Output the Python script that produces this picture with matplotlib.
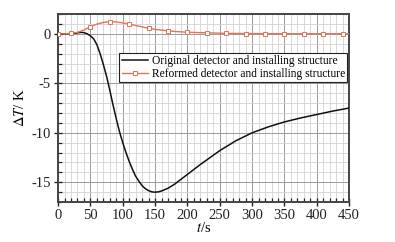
#!/usr/bin/env python3
"""Temperature difference versus time for two detector structures."""

import matplotlib

matplotlib.use("Agg")
import matplotlib.pyplot as plt
from matplotlib.ticker import MultipleLocator

# original detector and installing structure
t_orig = [0, 10, 20, 30, 35, 40, 45, 50, 55, 60, 65, 70, 75, 80, 85, 90, 95,
          100, 105, 110, 115, 120, 125, 130, 135, 140, 145, 150, 155, 160,
          170, 180, 190, 200, 220, 250, 275, 300, 325, 350, 375, 400, 425, 450]
dT_orig = [0.0, 0.0, 0.02, 0.1, 0.15, 0.12, 0.0, -0.2, -0.5, -1.1, -2.0, -3.1,
           -4.3, -5.7, -7.2, -8.6, -9.9, -11.0, -12.0, -12.9, -13.7, -14.4,
           -14.9, -15.35, -15.65, -15.85, -15.97, -16.0, -15.97, -15.88,
           -15.6, -15.2, -14.7, -14.2, -13.2, -11.8, -10.8, -10.0, -9.4,
           -8.9, -8.5, -8.15, -7.8, -7.5]

# reformed detector and installing structure
t_ref = [0, 10, 20, 30, 40, 50, 60, 70, 80, 90, 100, 110, 120, 130, 140, 150,
         160, 170, 180, 190, 200, 230, 260, 290, 320, 350, 380, 410, 440, 450]
dT_ref = [0.0, 0.0, 0.05, 0.15, 0.38, 0.72, 0.98, 1.15, 1.24, 1.2, 1.1, 0.98,
          0.84, 0.7, 0.56, 0.45, 0.37, 0.3, 0.24, 0.2, 0.16, 0.1, 0.05, 0.03,
          0.02, 0.01, 0.01, 0.01, 0.01, 0.01]
ref_marker_idx = [0, 2, 5, 8, 11, 14, 17, 20, 21, 22, 23, 24, 25, 26, 27, 28]

LABELS = ["Original detector and installing structure",
          "Reformed detector and installing structure"]

plt.rcParams["font.family"] = ["Liberation Serif", "DejaVu Serif"]
plt.rcParams["mathtext.fontset"] = "stix"
plt.rcParams["axes.unicode_minus"] = False

fig = plt.figure(figsize=(3.95, 2.42), dpi=100)
ax = fig.add_axes([0.147, 0.165, 0.737, 0.777])

ax.plot(t_orig, dT_orig, color="#111111", linewidth=1.1, label=LABELS[0],
        zorder=3)
ax.plot(t_ref, dT_ref, color="#e0735a", linewidth=1.0, marker="s",
        markersize=3.2, markerfacecolor="white", markeredgecolor="#e0735a",
        markeredgewidth=0.7, markevery=ref_marker_idx, label=LABELS[1],
        zorder=3)

ax.set_xlim(0, 450)
ax.set_ylim(-17, 2)
ax.xaxis.set_major_locator(MultipleLocator(50))
ax.xaxis.set_minor_locator(MultipleLocator(10))
ax.yaxis.set_major_locator(MultipleLocator(5))
ax.yaxis.set_minor_locator(MultipleLocator(1))

ax.grid(which="major", color="#9a9a9a", linewidth=0.7)
ax.grid(which="minor", color="#d2d2d2", linewidth=0.6)
ax.set_axisbelow(True)

for sp in ax.spines.values():
    sp.set_color("#444444")
    sp.set_linewidth(1.4)

ax.tick_params(which="major", direction="inout", length=6, width=1.0,
               labelsize=10.5, colors="#222222", pad=2)
ax.tick_params(which="minor", direction="in", length=3, width=0.9,
               colors="#222222")

ax.set_xlabel(r"$t$/s", fontsize=10.5, labelpad=-1)
ax.set_ylabel(r"$\Delta T$/ K", fontsize=10.5, labelpad=3)

leg = ax.legend(loc="upper right", bbox_to_anchor=(0.993, 0.795), fontsize=8.3,
                frameon=True, fancybox=False, edgecolor="#222222",
                framealpha=1.0, handlelength=2.3, borderpad=0.2,
                labelspacing=0.1, handletextpad=0.3, borderaxespad=0.0)
leg.get_frame().set_linewidth(0.8)

fig.savefig("out.png", dpi=100)
